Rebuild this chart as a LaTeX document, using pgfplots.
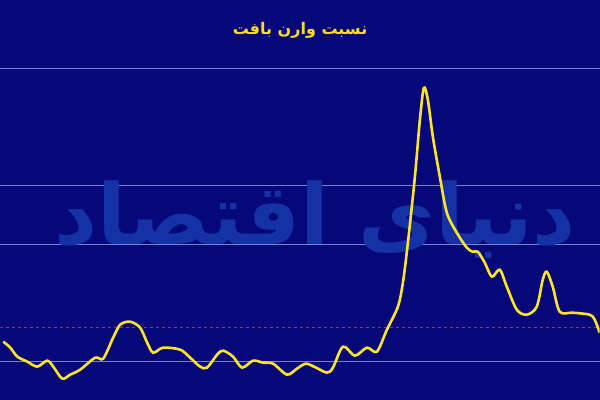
\documentclass[border=0pt]{standalone}
\usepackage{pgfplots}
\pgfplotsset{compat=1.18}
\usepackage{fontspec}
\setmainfont{DejaVu Sans}
\newfontfamily\arabicfont[Script=Arabic]{DejaVu Sans}
\TeXXeTstate=1
\definecolor{bg}{RGB}{6,8,122}
\definecolor{wm}{RGB}{20,50,165}
\definecolor{gridc}{RGB}{120,130,205}
\definecolor{linec}{RGB}{255,228,40}
\definecolor{titlec}{RGB}{255,220,30}
\definecolor{refred}{RGB}{215,30,50}

% values (x px, 400 - y px)
\pgfplotstableread{
x y
3 58
10 52
17 43
27 38
37 33
47 39
53 33
62 21
70 25
80 30
95 42
103 41
113 62
120 75
130 78
140 72
147 57
153 47
163 52
180 50
190 42
200 33
207 32
217 45
223 49
233 43
242 32
253 39
263 37
273 36
287 25
297 31
306 36
316 32
327 27
333 32
343 53
355 44
367 52
377 48
387 70
398 93
403 117
408 157
415 223
420 280
424 312
428 300
433 263
440 223
447 187
457 167
467 152
473 148
478 148
485 137
492 123
500 130
507 113
517 90
527 85
537 93
543 120
547 128
553 113
560 88
573 87
590 85
595 80
600 67
}\ratio

\begin{document}
\begin{tikzpicture}
\begin{axis}[
  scale only axis,
  width=600pt, height=400pt,
  xmin=0, xmax=600, ymin=0, ymax=400,
  axis background/.style={fill=bg},
  axis line style={draw=none},
  tick style={draw=none},
  xtick=\empty,
  ytick={38,155,215,332},
  yticklabels={},
  y tick label style={overlay},
  ymajorgrids,
  major grid style={gridc, line width=0.6pt},
  clip=true,
]
\node[overlay, text=wm, font=\arabicfont\bfseries\fontsize{84}{84}\selectfont]
  at (axis cs:315,180) {\beginR دنیای اقتصاد\endR};
\addplot[refred, line width=0.9pt, dash pattern=on 3pt off 3pt]
  coordinates {(0,72) (600,72)};
\addplot[linec, line width=2.6pt, smooth, tension=0.5, no marks]
  table[x=x, y=y] {\ratio};
\node[text=titlec, font=\arabicfont\bfseries\fontsize{16}{16}\selectfont]
  at (axis cs:300,370) {\beginR نسبت وارن بافت\endR};
\end{axis}
\end{tikzpicture}
\end{document}
